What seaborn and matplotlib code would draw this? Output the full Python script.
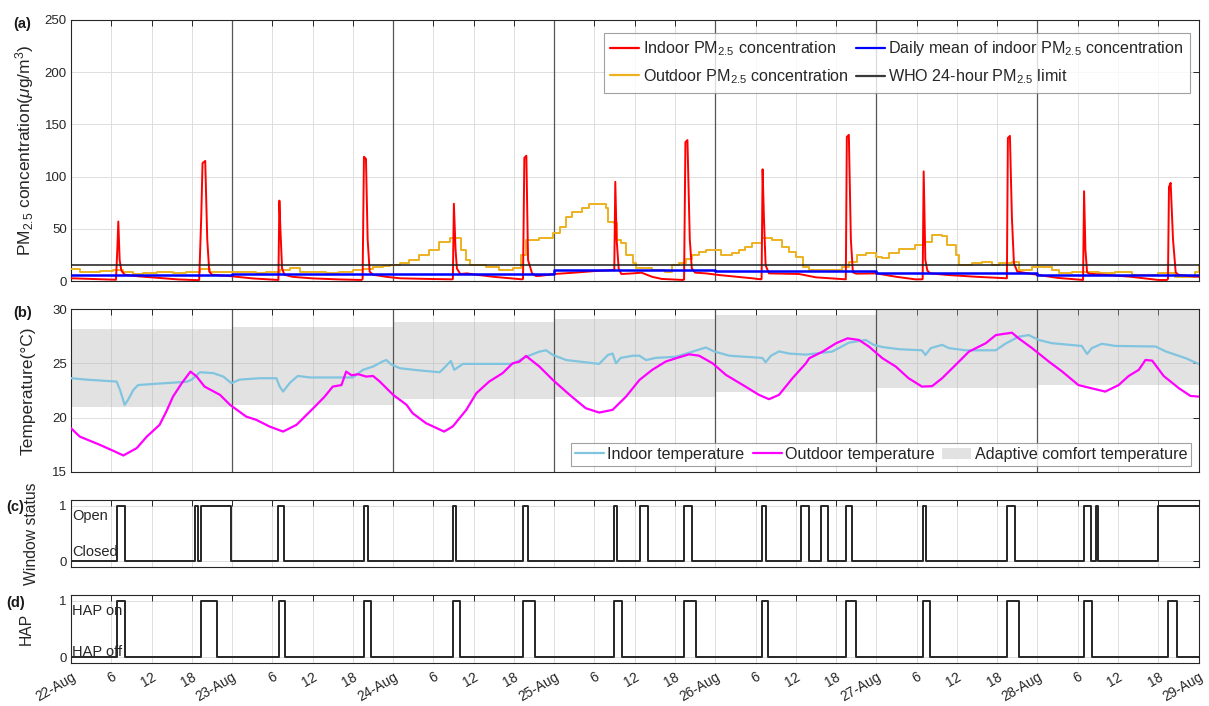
"""Indoor/outdoor PM2.5, temperature, window and HAP status, 22-29 Aug."""

import matplotlib
matplotlib.use("Agg")
import matplotlib.pyplot as plt
import pandas as pd
import seaborn as sns
from matplotlib.lines import Line2D
from matplotlib.patches import Patch

sns.set_style("white")
plt.rcParams["font.family"] = ["Liberation Sans", "DejaVu Sans"]
plt.rcParams["mathtext.fontset"] = "custom"
plt.rcParams["mathtext.rm"] = "Liberation Sans"
plt.rcParams["mathtext.it"] = "Liberation Sans:italic"

# ---------------------------------------------------------------------------
# Data  (x = hours since 22-Aug 00:00)
# ---------------------------------------------------------------------------
day_labels = ["22-Aug", "23-Aug", "24-Aug", "25-Aug", "26-Aug", "27-Aug", "28-Aug", "29-Aug"]
hour_labels = ["6", "12", "18"]

# (hour, indoor PM2.5 ug/m3)
pm_indoor = [
    (0, 2.6), (3, 2.0), (6.7, 1.2), (6.9, 30), (7.05, 57), (7.25, 20), (7.5, 10), (8, 6), (10, 4.5), (13, 3), (16, 1.5), (18.9, 0.8),
    (19.1, 1.0), (19.4, 60), (19.6, 113), (20.0, 115), (20.3, 40), (20.6, 9), (21, 6), (22, 5.5), (24, 4.5), (27, 2.5), (30.6, 1.2),
    (30.9, 1.0), (31.05, 77), (31.2, 50), (31.45, 12), (31.8, 6), (33, 4), (36, 2.5), (40, 1.5), (43.3, 1.0),
    (43.45, 2), (43.65, 119), (43.95, 117), (44.2, 40), (44.5, 9), (45, 6), (47, 4), (49, 2.6), (53, 2.0), (56.8, 1.6),
    (56.9, 2), (57.05, 74), (57.3, 30), (57.5, 12), (58, 6.7), (59, 7.3), (60, 6.3), (63, 4), (67.2, 1.6),
    (67.35, 2), (67.55, 118), (67.85, 120), (68.1, 20), (68.7, 7.3), (69.3, 4.7), (70, 5), (72, 6.7), (75, 8), (78, 9.5), (80.8, 10.5),
    (80.95, 10), (81.1, 95), (81.3, 40), (81.6, 12), (82, 6.7), (83.7, 7.3), (85, 8), (86.6, 4), (88, 2), (91.2, 1),
    (91.35, 1.5), (91.55, 133), (91.85, 135), (92.2, 40), (92.5, 12), (93, 8), (94.6, 7.3), (96.6, 5.7), (101.5, 2.6), (102.8, 1.6),
    (102.9, 2), (103.05, 107), (103.25, 60), (103.5, 15), (104, 7.3), (106, 7), (108.5, 6.7), (111, 3.5), (115.3, 1.6),
    (115.45, 1.6), (115.6, 138), (115.9, 140), (116.2, 40), (116.5, 8.3), (117, 7), (120, 7.3), (123, 4), (125.8, 1.6), (126.8, 1.6),
    (126.9, 2), (127.05, 105), (127.3, 20), (127.6, 10), (128, 7.3), (130.8, 5.7), (135, 4), (139.3, 2.6),
    (139.45, 2.6), (139.6, 137), (139.9, 139), (140.2, 60), (140.5, 17), (141, 9), (144.2, 5.7), (147, 3), (150.7, 1),
    (150.8, 1), (150.95, 86), (151.15, 30), (151.4, 8.3), (151.7, 7), (155, 5.5), (158, 4), (162, 1), (163.3, 1),
    (163.45, 2), (163.6, 90), (163.85, 94), (164.2, 40), (164.6, 8.3), (165, 6), (167, 4.5), (168, 4),
]

# (hour, outdoor PM2.5 ug/m3), hourly steps
pm_outdoor = [
    (0, 11.2), (1.3, 9), (2.8, 8.5), (4.3, 10), (6.3, 10.5), (7.8, 8.5), (9.3, 6.7), (10.8, 7.5), (12.8, 9),
    (15.2, 7.5), (17.2, 9), (19.2, 11.2), (20.7, 9), (23.2, 8.5), (25.1, 9), (27.6, 7.5), (29.1, 9), (31.1, 10.5),
    (32.6, 12), (34.1, 9), (36, 8.5), (38, 7.5), (40, 9), (42, 10.5), (43.5, 11.2), (45, 13.7), (46.5, 14.5),
    (47.5, 15.3), (49, 17), (50.4, 20), (51.9, 25), (53.4, 30), (54.9, 37.7), (56.4, 41.5), (58.1, 30), (58.9, 20),
    (59.4, 15.3), (61.9, 13.7), (63.8, 10.5), (65.8, 12), (67.1, 25), (67.8, 39), (69.8, 41), (71.8, 45.7),
    (72.8, 52), (73.8, 61.6), (74.7, 66.4), (76.2, 69.6), (77.2, 73.4), (79.7, 69.6), (80.0, 56.8), (80.9, 55.2),
    (81.4, 39), (81.9, 36), (82.7, 25), (83.7, 17), (84.2, 12.3), (86.6, 10.7), (88.5, 9), (89.6, 15.4), (90.6, 17),
    (91.6, 21), (92.6, 25), (93.6, 28), (94.6, 30), (96.8, 25), (98.5, 26.5), (99.5, 30), (100.5, 33), (101.5, 36),
    (103.0, 41.5), (104.5, 39), (106, 33), (107, 28), (108, 23.3), (109, 13.7), (110, 10.5), (113.4, 10.5),
    (114.9, 13.7), (115.9, 18.5), (117.1, 25), (118.4, 26.5), (119.9, 23.3), (120.9, 21.7), (121.9, 26.5),
    (123.4, 30.4), (125.8, 34.5), (127.3, 37.7), (128.3, 44), (129.8, 43), (130.6, 34.5), (131.8, 25),
    (132.3, 15.3), (134.3, 17), (135.8, 18.5), (137.3, 15.3), (138.2, 17), (140.2, 18.5), (141.2, 10.5),
    (143.2, 13.7), (146.2, 10.5), (147.2, 7.3), (149.1, 9), (153.1, 7.3), (155.6, 9), (158.1, 5.7), (162, 8),
    (164.5, 4.1), (167.5, 9), (168, 15),
]

pm_daily_mean = [5.8, 6.7, 6.9, 10.2, 9.3, 8.0, 5.8]
who_limit = 15

# (hour, temperature degC)
temp_indoor = [
    (0, 23.63), (2.3, 23.5), (6.8, 23.32), (7.3, 22.56), (8.0, 21.18), (8.5, 21.64), (9.3, 22.56), (10.0, 23.0),
    (12.2, 23.1), (17.2, 23.3), (18.0, 23.5), (19.2, 24.18), (21.2, 24.1), (22.7, 23.78), (23.9, 23.17),
    (25.1, 23.5), (28.1, 23.63), (30.6, 23.63), (31.1, 22.86), (31.6, 22.4), (32.6, 23.2), (33.8, 23.84),
    (35.6, 23.7), (42.0, 23.7), (43.5, 24.4), (45.0, 24.7), (46.5, 25.2), (47.0, 25.3), (47.7, 24.9),
    (49.0, 24.55), (51.9, 24.35), (54.9, 24.18), (55.4, 24.45), (56.6, 25.22), (57.1, 24.4), (58.4, 24.95),
    (65.8, 24.95), (67.8, 25.6), (69.8, 26.08), (70.8, 26.2), (71.8, 25.77), (73.8, 25.3), (78.7, 24.95),
    (80.0, 25.77), (80.7, 25.9), (81.2, 25.0), (81.9, 25.5), (83.7, 25.7), (84.7, 25.7), (85.7, 25.3),
    (87.1, 25.5), (90.1, 25.6), (92.1, 25.98), (94.6, 26.46), (95.8, 26.1), (98.1, 25.7), (103.0, 25.5),
    (103.5, 25.1), (104.3, 25.7), (105.5, 26.1), (107.0, 25.9), (109.5, 25.8), (113.4, 26.08), (114.4, 26.4),
    (115.9, 26.9), (118.4, 27.15), (119.6, 26.7), (120.9, 26.5), (123.4, 26.3), (126.8, 26.2), (127.3, 25.77),
    (128.1, 26.4), (129.8, 26.7), (130.8, 26.4), (133.3, 26.2), (137.8, 26.2), (139.2, 26.8), (141.2, 27.45),
    (142.7, 27.6), (144.2, 27.15), (146.2, 26.85), (150.6, 26.6), (151.4, 25.86), (152.1, 26.4), (153.6, 26.8),
    (155.6, 26.6), (161.6, 26.55), (163.1, 26.1), (166.1, 25.47), (168, 24.95),
]

temp_outdoor = [
    (0, 19.03), (1.3, 18.26), (4.3, 17.5), (6.3, 16.95), (7.8, 16.52), (9.8, 17.2), (11.3, 18.26), (13.2, 19.34),
    (14.2, 20.56), (15.2, 21.94), (16.5, 23.17), (17.8, 24.24), (18.7, 23.8), (19.9, 22.86), (22.2, 22.1),
    (23.7, 21.18), (26.1, 20.1), (27.6, 19.8), (29.6, 19.18), (31.6, 18.72), (33.6, 19.34), (36.1, 20.87),
    (37.8, 21.94), (39.0, 22.86), (40.3, 23.0), (41.0, 24.24), (41.8, 23.9), (42.8, 24.0), (44.0, 23.78),
    (45.0, 23.84), (46.0, 23.33), (48.0, 22.1), (50.0, 21.18), (50.9, 20.41), (52.9, 19.49), (55.6, 18.72),
    (56.9, 19.2), (58.9, 20.72), (60.4, 22.25), (62.3, 23.32), (64.3, 24.09), (65.8, 25.0), (66.8, 25.15),
    (67.8, 25.68), (69.8, 24.7), (71.8, 23.47), (74.3, 22.1), (76.7, 20.87), (78.7, 20.47), (80.7, 20.72),
    (82.7, 21.94), (84.7, 23.47), (86.6, 24.4), (88.6, 25.16), (90.1, 25.46), (92.1, 25.83), (93.6, 25.7),
    (95.6, 25.0), (97.6, 23.93), (100.5, 22.86), (102.5, 22.1), (104.0, 21.7), (105.5, 22.1), (107.5, 23.63),
    (109.5, 25.0), (110.0, 25.47), (112.0, 26.08), (114.0, 26.85), (115.7, 27.3), (117.4, 27.15), (118.9, 26.54),
    (120.9, 25.47), (122.9, 24.7), (124.8, 23.63), (126.8, 22.86), (128.3, 22.9), (129.8, 23.63), (131.8, 24.85),
    (133.8, 26.08), (136.3, 26.85), (137.8, 27.6), (140.2, 27.82), (141.2, 27.3), (143.2, 26.4), (145.7, 25.16),
    (147.7, 24.24), (150.1, 23.0), (152.1, 22.7), (154.1, 22.4), (156.1, 23.0), (157.6, 23.84), (159.1, 24.4),
    (160.1, 25.31), (161.1, 25.25), (162.8, 23.84), (165.1, 22.7), (166.8, 22.0), (168, 21.94),
]

comfort_lower = [21.0, 21.2, 21.7, 21.9, 22.35, 22.7, 23.0]
comfort_upper = [28.13, 28.3, 28.8, 29.05, 29.45, 30.2, 30.4]

# (start hour, end hour); None = still open at the end
window_open = [
    (6.9, 8.0), (18.5, 18.9), (19.4, 23.8), (30.8, 31.8), (43.6, 44.2), (56.9, 57.4), (67.4, 68.1),
    (80.9, 81.4), (84.8, 86.0), (91.4, 92.6), (102.9, 103.5), (108.8, 109.9), (111.8, 112.8),
    (115.5, 116.3), (127.0, 127.4), (139.5, 140.7), (151.0, 152.0), (152.8, 153.0), (161.9, None),
]
hap_on = [
    (6.9, 8.0), (19.4, 21.7), (31.0, 31.9), (43.6, 44.7), (56.9, 58.0), (67.4, 69.1), (80.9, 82.1),
    (91.4, 93.2), (102.9, 103.9), (115.5, 117.0), (127.0, 128.0), (139.5, 141.2), (151.0, 152.1),
    (163.5, 164.8),
]

N_HOURS = 168


def series(pairs):
    return pd.DataFrame(pairs, columns=["hour", "value"])


def steps(intervals):
    hours, state = [0.0], [0]
    for start, end in intervals:
        hours.append(start); state.append(1)
        if end is not None:
            hours.append(end); state.append(0)
    hours.append(N_HOURS); state.append(state[-1])
    return pd.DataFrame({"hour": hours, "value": state})


def daily(values):
    return pd.DataFrame({"hour": [24 * i for i in range(len(values) + 1)],
                         "value": list(values) + [values[-1]]})


# ---------------------------------------------------------------------------
# Figure
# ---------------------------------------------------------------------------
W, H = 1209, 706
fig = plt.figure(figsize=(W / 100, H / 100), dpi=100)
X0, X1 = 71, 1198.5


def add_ax(top, bottom):
    return fig.add_axes([X0 / W, 1 - bottom / H, (X1 - X0) / W, (bottom - top) / H])


ax_a = add_ax(20, 281)
ax_b = add_ax(309, 472)
ax_c = add_ax(500, 567)
ax_d = add_ax(595, 663)
axes = [ax_a, ax_b, ax_c, ax_d]

TXT = "#262626"
GRID = "#dedede"
LEG_FS = 11.6
tick_pos = list(range(0, N_HOURS + 1, 6))
tick_lab = [day_labels[h // 24] if h % 24 == 0 else hour_labels[h % 24 // 6 - 1] for h in tick_pos]

for ax in axes:
    ax.set_xlim(0, N_HOURS)
    ax.set_xticks(tick_pos)
    for h in tick_pos:
        ax.axvline(h, color=GRID, lw=0.7, zorder=0)
    ax.tick_params(direction="in", length=4, width=0.7, color=TXT, labelcolor=TXT,
                   labelsize=9.5, top=True, right=True, pad=3)
    for s in ax.spines.values():
        s.set_color(TXT); s.set_linewidth(0.8)
    ax.set_xlabel("")
    ax.set_xticklabels([])

# ---- (a) PM2.5 ------------------------------------------------------------
ax = ax_a
ax.set_ylim(0, 250)
ax.set_yticks(range(0, 251, 50))
for v in range(50, 251, 50):
    ax.axhline(v, color=GRID, lw=0.7, zorder=0)
for d in range(24, N_HOURS, 24):
    ax.axvline(d, color="#555555", lw=0.9, zorder=1)
sns.lineplot(data=series(pm_outdoor), x="hour", y="value", ax=ax, color="#edb120",
             lw=1.4, drawstyle="steps-post", estimator=None, sort=False, zorder=3)
sns.lineplot(data=series(pm_indoor), x="hour", y="value", ax=ax, color="#ff0000",
             lw=1.4, estimator=None, sort=False, zorder=4)
sns.lineplot(data=daily(pm_daily_mean), x="hour", y="value", ax=ax, color="#0000ff",
             lw=1.8, drawstyle="steps-post", estimator=None, sort=False, zorder=5)
ax.axhline(who_limit, color="#1a1a1a", lw=1.1, zorder=6)
ax.set_ylabel("PM$_{2.5}$ concentration($\\mu$g/m$^3$)", fontsize=12.5, color=TXT)
ax.yaxis.set_label_coords(-0.031, 0.5)
ax.set_xlabel("")
handles = [
    Line2D([], [], color="#ff0000", lw=1.6, label="Indoor PM$_{2.5}$ concentration"),
    Line2D([], [], color="#edb120", lw=1.6, label="Outdoor PM$_{2.5}$ concentration"),
    Line2D([], [], color="#0000ff", lw=1.6, label="Daily mean of indoor PM$_{2.5}$ concentration"),
    Line2D([], [], color="#3a3a3a", lw=1.6, label="WHO 24-hour PM$_{2.5}$ limit"),
]
leg = ax.legend(handles=handles, ncol=2, loc="upper right", bbox_to_anchor=(0.9925, 0.95),
                fontsize=LEG_FS, frameon=True, fancybox=False, handlelength=1.8,
                handletextpad=0.2, columnspacing=0.5, borderpad=0.4, labelspacing=0.55,
                borderaxespad=0)
leg.get_frame().set_edgecolor("#8a8a8a"); leg.get_frame().set_linewidth(0.8)

# ---- (b) temperature ------------------------------------------------------
ax = ax_b
ax.set_ylim(15, 30)
ax.set_yticks([15, 20, 25, 30])
for v in (20, 25):
    ax.axhline(v, color=GRID, lw=0.7, zorder=0)
for i, (lo, hi) in enumerate(zip(comfort_lower, comfort_upper)):
    ax.fill_between([24 * i, 24 * (i + 1)], lo, hi, color="#b4b4b4", alpha=0.38, lw=0, zorder=1)
for d in range(24, N_HOURS, 24):
    ax.axvline(d, color="#555555", lw=0.9, zorder=2)
sns.lineplot(data=series(temp_indoor), x="hour", y="value", ax=ax, color="#80c4df",
             lw=1.6, estimator=None, sort=False, zorder=3)
sns.lineplot(data=series(temp_outdoor), x="hour", y="value", ax=ax, color="#ff00ff",
             lw=1.6, estimator=None, sort=False, zorder=4)
ax.set_ylabel("Temperature(°C)", fontsize=12.5, color=TXT)
ax.yaxis.set_label_coords(-0.031, 0.5)
ax.set_xlabel("")
handles = [
    Line2D([], [], color="#80c4df", lw=1.6, label="Indoor temperature"),
    Line2D([], [], color="#ff00ff", lw=1.6, label="Outdoor temperature"),
    Patch(facecolor="#e2e2e2", edgecolor="none", label="Adaptive comfort temperature"),
]
leg = ax.legend(handles=handles, ncol=3, loc="lower right", bbox_to_anchor=(0.9935, 0.037),
                fontsize=LEG_FS, frameon=True, fancybox=False, handlelength=1.8,
                handletextpad=0.2, columnspacing=0.5, borderpad=0.25, borderaxespad=0)
leg.get_frame().set_edgecolor("#8a8a8a"); leg.get_frame().set_linewidth(0.8)

# ---- (c) window / (d) HAP -------------------------------------------------
for ax, intervals, label, on_txt, off_txt in (
    (ax_c, window_open, "Window status", "Open", "Closed"),
    (ax_d, hap_on, "HAP", "HAP on", "HAP off"),
):
    ax.set_ylim(-0.1, 1.1)
    ax.set_yticks([0, 1])
    for v in (0, 1):
        ax.axhline(v, color=GRID, lw=0.7, zorder=0)
    sns.lineplot(data=steps(intervals), x="hour", y="value", ax=ax, color="#262626",
                 lw=1.4, drawstyle="steps-post", estimator=None, sort=False, zorder=3)
    ax.text(0.15, 0.82, on_txt, fontsize=10.5, color=TXT, va="center")
    ax.text(0.15, 0.15, off_txt, fontsize=10.5, color=TXT, va="center")
    ax.set_ylabel(label, fontsize=11.3, color=TXT)
    ax.set_xlabel("")
ax_c.texts[1].set_y(0.17)
ax_d.texts[1].set_y(0.1)
ax_c.yaxis.set_label_coords(-0.028, 0.5)
ax_d.yaxis.set_label_coords(-0.033, 0.5)

ax_d.set_xticks(tick_pos)
ax_d.set_xticklabels(tick_lab, rotation=30, ha="right", rotation_mode="anchor", fontsize=9.8)
ax_d.tick_params(axis="x", pad=5)

for txt, x, y in (("(a)", 13, 24), ("(b)", 13, 313), ("(c)", 6, 507), ("(d)", 6, 603)):
    fig.text(x / W, 1 - y / H, txt, fontsize=10.5, fontweight="bold", color="#1a1a1a", va="center")

fig.savefig("out.png", dpi=100)
